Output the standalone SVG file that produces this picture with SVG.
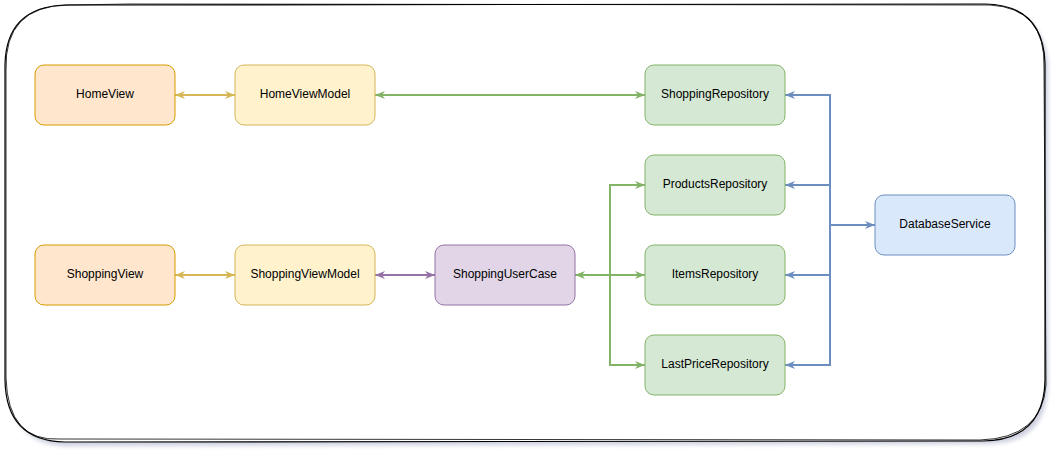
<svg xmlns="http://www.w3.org/2000/svg" width="1064" height="464" viewBox="0 0 1064 464">
<defs>
<filter id="sh" x="-5%" y="-5%" width="110%" height="115%"><feGaussianBlur stdDeviation="2"/></filter>
<marker id="aY" viewBox="0 0 10 8" refX="10" refY="4" markerWidth="10" markerHeight="8" markerUnits="userSpaceOnUse" orient="auto-start-reverse"><path d="M0,0 L10,4 L0,8 L3,4 z" fill="#d6b656"/></marker>
<marker id="aG" viewBox="0 0 10 8" refX="10" refY="4" markerWidth="10" markerHeight="8" markerUnits="userSpaceOnUse" orient="auto-start-reverse"><path d="M0,0 L10,4 L0,8 L3,4 z" fill="#82b366"/></marker>
<marker id="aP" viewBox="0 0 10 8" refX="10" refY="4" markerWidth="10" markerHeight="8" markerUnits="userSpaceOnUse" orient="auto-start-reverse"><path d="M0,0 L10,4 L0,8 L3,4 z" fill="#9673a6"/></marker>
<marker id="aB" viewBox="0 0 10 8" refX="10" refY="4" markerWidth="10" markerHeight="8" markerUnits="userSpaceOnUse" orient="auto-start-reverse"><path d="M0,0 L10,4 L0,8 L3,4 z" fill="#6c8ebf"/></marker>
</defs>
<style>
text{font-family:"Liberation Sans",Arial,sans-serif;font-size:12px;fill:#000;text-anchor:middle;dominant-baseline:central}
.or{fill:#ffe6cc;stroke:#d79b00}
.ye{fill:#fff2cc;stroke:#d6b656}
.gr{fill:#d5e8d4;stroke:#82b366}
.pu{fill:#e1d5e7;stroke:#9673a6}
.bl{fill:#dae8fc;stroke:#6c8ebf}
.e{fill:none;stroke-width:2}
</style>
<g id="container">
<path d="M10,70 Q8,14 70,12 L990,10 Q1048,12 1048,70 L1048,382 Q1048,444 988,444 L68,446 Q10,446 12,384 Z" fill="#9aa0c0" opacity="0.5" filter="url(#sh)"/>
<path d="M5,65 Q6,7 65,5 L985,4 Q1043,5 1045,63 L1045,380 Q1044,440 983,441 L65,442 Q6,441 5,380 Z" fill="#fff" stroke="#000" stroke-width="1.2"/>
<path d="M6,70 Q4,6 68,5 L130,4 L990,5 Q1046,8 1044,68 L1046,385 Q1042,438 980,440 L60,439 Q8,442 6,378 Z" fill="none" stroke="#000" stroke-width="0.8"/>
</g>
<g id="connectors">
<path class="e" stroke="#d6b656" d="M175,95 L235,95" marker-start="url(#aY)" marker-end="url(#aY)"/>
<path class="e" stroke="#82b366" d="M375,95 L645,95" marker-start="url(#aG)" marker-end="url(#aG)"/>
<path class="e" stroke="#d6b656" d="M175,275 L235,275" marker-start="url(#aY)" marker-end="url(#aY)"/>
<path class="e" stroke="#9673a6" d="M375,275 L435,275" marker-start="url(#aP)" marker-end="url(#aP)"/>
<path class="e" stroke="#82b366" d="M575,275 L645,275" marker-start="url(#aG)" marker-end="url(#aG)"/>
<path class="e" stroke="#82b366" d="M610,275 L610,185 L645,185" marker-end="url(#aG)"/>
<path class="e" stroke="#82b366" d="M610,275 L610,365 L645,365" marker-end="url(#aG)"/>
<path class="e" stroke="#6c8ebf" d="M830,225 L875,225" marker-end="url(#aB)"/>
<path class="e" stroke="#6c8ebf" d="M830,225 L830,95 L785,95" marker-end="url(#aB)"/>
<path class="e" stroke="#6c8ebf" d="M830,185 L785,185" marker-end="url(#aB)"/>
<path class="e" stroke="#6c8ebf" d="M830,225 L830,275 L785,275" marker-end="url(#aB)"/>
<path class="e" stroke="#6c8ebf" d="M830,275 L830,365 L785,365" marker-end="url(#aB)"/>
</g>
<g id="HomeView"><rect class="or" x="35" y="65" width="140" height="60" rx="9"/><text x="105" y="94">HomeView</text></g>
<g id="HomeViewModel"><rect class="ye" x="235" y="65" width="140" height="60" rx="9"/><text x="305" y="94">HomeViewModel</text></g>
<g id="ShoppingRepository"><rect class="gr" x="645" y="65" width="140" height="60" rx="9"/><text x="715" y="94">ShoppingRepository</text></g>
<g id="ProductsRepository"><rect class="gr" x="645" y="155" width="140" height="60" rx="9"/><text x="715" y="184">ProductsRepository</text></g>
<g id="DatabaseService"><rect class="bl" x="875" y="195" width="140" height="60" rx="9"/><text x="945" y="224">DatabaseService</text></g>
<g id="ShoppingView"><rect class="or" x="35" y="245" width="140" height="60" rx="9"/><text x="105" y="274">ShoppingView</text></g>
<g id="ShoppingViewModel"><rect class="ye" x="235" y="245" width="140" height="60" rx="9"/><text x="305" y="274">ShoppingViewModel</text></g>
<g id="ShoppingUserCase"><rect class="pu" x="435" y="245" width="140" height="60" rx="9"/><text x="505" y="274">ShoppingUserCase</text></g>
<g id="ItemsRepository"><rect class="gr" x="645" y="245" width="140" height="60" rx="9"/><text x="715" y="274">ItemsRepository</text></g>
<g id="LastPriceRepository"><rect class="gr" x="645" y="335" width="140" height="60" rx="9"/><text x="715" y="364">LastPriceRepository</text></g>
</svg>
